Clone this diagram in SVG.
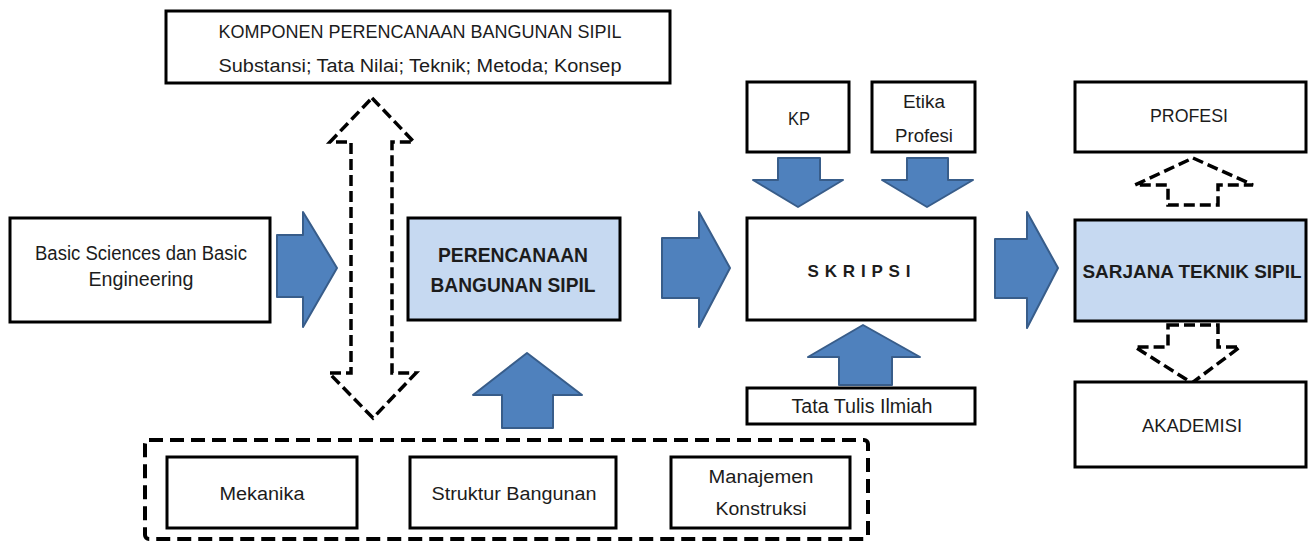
<svg xmlns="http://www.w3.org/2000/svg" width="1308" height="541" viewBox="0 0 1308 541">
<style>
.box{fill:#fff;stroke:#000;stroke-width:3}
.hl{fill:#c6d9f1;stroke:#000;stroke-width:3}
.t{font-family:"Liberation Sans",Arial,sans-serif;font-size:18px;fill:#1c1c1c;text-anchor:middle}
.l{font-size:20px}
.b{font-weight:bold;font-size:20px}
.blue{fill:#4f81bd;stroke:#385d8a;stroke-width:2;stroke-linejoin:round}
.dash{fill:#fff;stroke:#000;stroke-width:3.5;stroke-dasharray:11 5;stroke-linejoin:miter}
.group{fill:none;stroke:#000;stroke-width:4;stroke-dasharray:14 7}
</style>
<rect width="1308" height="541" fill="#fff"/>

<g id="connectors">
  <polygon class="blue" points="277,235 303,235 303,212 337,268 303,327 303,297 277,297"/>
  <polygon class="blue" points="662,238 699,238 699,212 730,268 699,327 699,298 662,298"/>
  <polygon class="blue" points="995,239 1027,239 1027,212 1058,268 1027,328 1027,298 995,298"/>
  <polygon class="blue" points="778,158 820,158 820,180 843,180 798,207 753,180 778,180"/>
  <polygon class="blue" points="907,158 948,158 948,180 973,180 927,207 882,180 907,180"/>
  <polygon class="blue" points="839,385 892,385 892,357 920,357 863,325 808,357 839,357"/>
  <polygon class="blue" points="502,428 553,428 553,395 582,395 527,353 473,395 502,395"/>
  <polygon class="dash" points="372,98 414,142 392,142 392,373 416,373 373,418 329,373 351,373 351,142 330,142"/>
  <polygon class="dash" points="1193,158 1253,185 1218,185 1218,205 1168,205 1168,185 1135,185"/>
  <polygon class="dash" points="1168,325 1218,325 1218,347 1240,347 1192,383 1135,347 1168,347"/>
</g>

<g id="komponen">
  <rect class="box" x="166" y="11" width="504" height="72"/>
  <text class="t" x="420" y="38" textLength="403" lengthAdjust="spacingAndGlyphs">KOMPONEN PERENCANAAN BANGUNAN SIPIL</text>
  <text class="t" x="420" y="72" textLength="403" lengthAdjust="spacingAndGlyphs">Substansi; Tata Nilai; Teknik; Metoda; Konsep</text>
</g>

<g id="basic">
  <rect class="box" x="10" y="218" width="260" height="104"/>
  <text class="t l" x="141" y="260" textLength="212" lengthAdjust="spacingAndGlyphs">Basic Sciences dan Basic</text>
  <text class="t l" x="141" y="286" textLength="105" lengthAdjust="spacingAndGlyphs">Engineering</text>
</g>

<g id="perencanaan">
  <rect class="hl" x="408" y="218" width="212" height="102"/>
  <text class="t b" x="513" y="262" textLength="150" lengthAdjust="spacingAndGlyphs">PERENCANAAN</text>
  <text class="t b" x="513" y="292" textLength="165" lengthAdjust="spacingAndGlyphs">BANGUNAN SIPIL</text>
</g>

<g id="kp">
  <rect class="box" x="747" y="82" width="102" height="70"/>
  <text class="t" x="799" y="125" textLength="22" lengthAdjust="spacingAndGlyphs">KP</text>
</g>

<g id="etika">
  <rect class="box" x="872" y="82" width="103" height="70"/>
  <text class="t" x="924" y="108" textLength="42" lengthAdjust="spacingAndGlyphs">Etika</text>
  <text class="t" x="924" y="142" textLength="58" lengthAdjust="spacingAndGlyphs">Profesi</text>
</g>

<g id="skripsi">
  <rect class="box" x="747" y="218" width="228" height="102"/>
  <text class="t b" x="859" y="277" style="font-size:17px" textLength="103" lengthAdjust="spacing">SKRIPSI</text>
</g>

<g id="tata-tulis">
  <rect class="box" x="747" y="388" width="228" height="36"/>
  <text class="t l" x="862" y="413" textLength="141" lengthAdjust="spacingAndGlyphs">Tata Tulis Ilmiah</text>
</g>

<g id="profesi">
  <rect class="box" x="1075" y="82" width="231" height="70"/>
  <text class="t" x="1189" y="122" textLength="78" lengthAdjust="spacingAndGlyphs">PROFESI</text>
</g>

<g id="sarjana">
  <rect class="hl" x="1075" y="220" width="231" height="101"/>
  <text class="t b" x="1192" y="278" style="font-size:18px" textLength="219" lengthAdjust="spacingAndGlyphs">SARJANA TEKNIK SIPIL</text>
</g>

<g id="akademisi">
  <rect class="box" x="1075" y="382" width="231" height="85"/>
  <text class="t" x="1192" y="432" textLength="100" lengthAdjust="spacingAndGlyphs">AKADEMISI</text>
</g>

<g id="kelompok">
  <rect class="group" x="145" y="440" width="723" height="99" rx="4"/>
</g>

<g id="mekanika">
  <rect class="box" x="167" y="457" width="190" height="71"/>
  <text class="t" x="262" y="500" textLength="85" lengthAdjust="spacingAndGlyphs">Mekanika</text>
</g>

<g id="struktur">
  <rect class="box" x="410" y="457" width="206" height="71"/>
  <text class="t" x="514" y="500" textLength="165" lengthAdjust="spacingAndGlyphs">Struktur Bangunan</text>
</g>

<g id="manajemen">
  <rect class="box" x="671" y="457" width="179" height="71"/>
  <text class="t" x="761" y="483" textLength="105" lengthAdjust="spacingAndGlyphs">Manajemen</text>
  <text class="t" x="761" y="515" textLength="91" lengthAdjust="spacingAndGlyphs">Konstruksi</text>
</g>
</svg>
